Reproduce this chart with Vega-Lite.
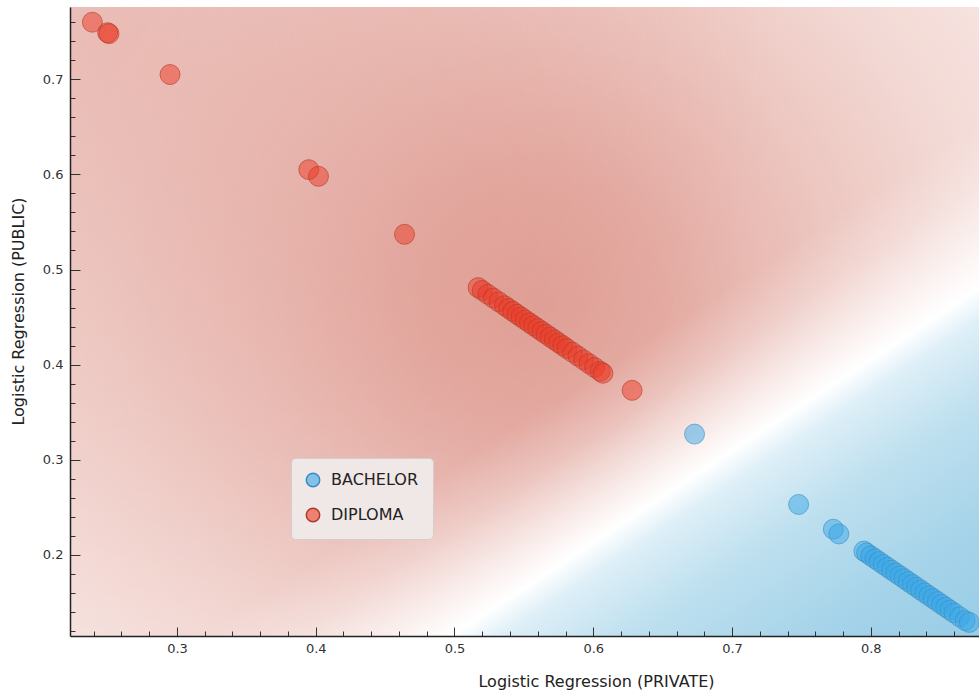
{
  "$schema": "https://vega.github.io/schema/vega-lite/v6.json",
  "width": 909,
  "height": 629,
  "autosize": {"type": "none"},
  "padding": {"left": 70, "top": 7, "right": 0, "bottom": 56},
  "background": "white",
  "config": {"view": {"stroke": null}, "font": "DejaVu Sans"},
  "datasets": {
    "bg": [{"x": 0.2229, "x2": 0.878, "y": 0.1147, "y2": 0.776}],
    "pts": [
      {"x": 0.239, "y": 0.760, "cls": "DIPLOMA"},
      {"x": 0.250, "y": 0.749, "cls": "DIPLOMA"},
      {"x": 0.251, "y": 0.748, "cls": "DIPLOMA"},
      {"x": 0.295, "y": 0.705, "cls": "DIPLOMA"},
      {"x": 0.395, "y": 0.605, "cls": "DIPLOMA"},
      {"x": 0.402, "y": 0.598, "cls": "DIPLOMA"},
      {"x": 0.464, "y": 0.537, "cls": "DIPLOMA"},
      {"x": 0.517, "y": 0.481, "cls": "DIPLOMA"},
      {"x": 0.520, "y": 0.478, "cls": "DIPLOMA"},
      {"x": 0.524, "y": 0.474, "cls": "DIPLOMA"},
      {"x": 0.528, "y": 0.470, "cls": "DIPLOMA"},
      {"x": 0.532, "y": 0.466, "cls": "DIPLOMA"},
      {"x": 0.536, "y": 0.462, "cls": "DIPLOMA"},
      {"x": 0.539, "y": 0.459, "cls": "DIPLOMA"},
      {"x": 0.542, "y": 0.456, "cls": "DIPLOMA"},
      {"x": 0.545, "y": 0.453, "cls": "DIPLOMA"},
      {"x": 0.548, "y": 0.450, "cls": "DIPLOMA"},
      {"x": 0.551, "y": 0.447, "cls": "DIPLOMA"},
      {"x": 0.554, "y": 0.444, "cls": "DIPLOMA"},
      {"x": 0.557, "y": 0.441, "cls": "DIPLOMA"},
      {"x": 0.560, "y": 0.438, "cls": "DIPLOMA"},
      {"x": 0.563, "y": 0.435, "cls": "DIPLOMA"},
      {"x": 0.566, "y": 0.432, "cls": "DIPLOMA"},
      {"x": 0.569, "y": 0.429, "cls": "DIPLOMA"},
      {"x": 0.572, "y": 0.426, "cls": "DIPLOMA"},
      {"x": 0.575, "y": 0.423, "cls": "DIPLOMA"},
      {"x": 0.578, "y": 0.420, "cls": "DIPLOMA"},
      {"x": 0.581, "y": 0.417, "cls": "DIPLOMA"},
      {"x": 0.585, "y": 0.413, "cls": "DIPLOMA"},
      {"x": 0.589, "y": 0.409, "cls": "DIPLOMA"},
      {"x": 0.593, "y": 0.405, "cls": "DIPLOMA"},
      {"x": 0.597, "y": 0.401, "cls": "DIPLOMA"},
      {"x": 0.601, "y": 0.397, "cls": "DIPLOMA"},
      {"x": 0.605, "y": 0.393, "cls": "DIPLOMA"},
      {"x": 0.607, "y": 0.391, "cls": "DIPLOMA"},
      {"x": 0.628, "y": 0.373, "cls": "DIPLOMA"},
      {"x": 0.673, "y": 0.327, "cls": "BACHELOR"},
      {"x": 0.748, "y": 0.253, "cls": "BACHELOR"},
      {"x": 0.773, "y": 0.227, "cls": "BACHELOR"},
      {"x": 0.777, "y": 0.222, "cls": "BACHELOR"},
      {"x": 0.795, "y": 0.204, "cls": "BACHELOR"},
      {"x": 0.797, "y": 0.202, "cls": "BACHELOR"},
      {"x": 0.800, "y": 0.199, "cls": "BACHELOR"},
      {"x": 0.803, "y": 0.196, "cls": "BACHELOR"},
      {"x": 0.806, "y": 0.193, "cls": "BACHELOR"},
      {"x": 0.809, "y": 0.190, "cls": "BACHELOR"},
      {"x": 0.812, "y": 0.187, "cls": "BACHELOR"},
      {"x": 0.815, "y": 0.184, "cls": "BACHELOR"},
      {"x": 0.818, "y": 0.181, "cls": "BACHELOR"},
      {"x": 0.821, "y": 0.178, "cls": "BACHELOR"},
      {"x": 0.824, "y": 0.175, "cls": "BACHELOR"},
      {"x": 0.827, "y": 0.172, "cls": "BACHELOR"},
      {"x": 0.830, "y": 0.169, "cls": "BACHELOR"},
      {"x": 0.833, "y": 0.166, "cls": "BACHELOR"},
      {"x": 0.836, "y": 0.163, "cls": "BACHELOR"},
      {"x": 0.839, "y": 0.160, "cls": "BACHELOR"},
      {"x": 0.842, "y": 0.157, "cls": "BACHELOR"},
      {"x": 0.845, "y": 0.154, "cls": "BACHELOR"},
      {"x": 0.848, "y": 0.151, "cls": "BACHELOR"},
      {"x": 0.851, "y": 0.148, "cls": "BACHELOR"},
      {"x": 0.854, "y": 0.145, "cls": "BACHELOR"},
      {"x": 0.857, "y": 0.142, "cls": "BACHELOR"},
      {"x": 0.860, "y": 0.139, "cls": "BACHELOR"},
      {"x": 0.864, "y": 0.135, "cls": "BACHELOR"},
      {"x": 0.868, "y": 0.131, "cls": "BACHELOR"},
      {"x": 0.871, "y": 0.129, "cls": "BACHELOR"}
    ]
  },
  "encoding": {
    "x": {
      "field": "x", "type": "quantitative",
      "scale": {"domain": [0.2229, 0.878], "nice": false, "zero": false},
      "axis": {
        "zindex": 1,
        "title": "Logistic Regression (PRIVATE)",
        "values": [0.24, 0.26, 0.28, 0.3, 0.32, 0.34, 0.36, 0.38, 0.4, 0.42, 0.44, 0.46, 0.48, 0.5, 0.52, 0.54, 0.56, 0.58, 0.6, 0.62, 0.64, 0.66, 0.68, 0.7, 0.72, 0.74, 0.76, 0.78, 0.8, 0.82, 0.84, 0.86],
        "labelExpr": "abs(datum.value*10-round(datum.value*10))<0.001 ? format(datum.value,'.1f') : ''",
        "tickSize": {"condition": {"test": "abs(datum.value*10-round(datum.value*10))<0.001", "value": -9}, "value": -5},
        "labelPadding": 15,
        "labelFont": "DejaVu Sans", "labelFontSize": 13, "labelColor": "#333",
        "labelOverlap": false, "labelFlush": false, "labelBound": false,
        "domainColor": "#222", "domainWidth": 1.5,
        "tickColor": "#333", "tickWidth": 1,
        "grid": false,
        "titleFont": "DejaVu Sans", "titleFontSize": 16, "titleFontWeight": "normal", "titleColor": "#222",
        "titleX": 526, "titleY": 45, "titleAlign": "center", "titleBaseline": "middle"
      }
    },
    "y": {
      "field": "y", "type": "quantitative",
      "scale": {"domain": [0.1147, 0.776], "nice": false, "zero": false},
      "axis": {
        "zindex": 1,
        "title": "Logistic Regression (PUBLIC)",
        "values": [0.12, 0.14, 0.16, 0.18, 0.2, 0.22, 0.24, 0.26, 0.28, 0.3, 0.32, 0.34, 0.36, 0.38, 0.4, 0.42, 0.44, 0.46, 0.48, 0.5, 0.52, 0.54, 0.56, 0.58, 0.6, 0.62, 0.64, 0.66, 0.68, 0.7, 0.72, 0.74, 0.76],
        "labelExpr": "abs(datum.value*10-round(datum.value*10))<0.001 ? format(datum.value,'.1f') : ''",
        "tickSize": {"condition": {"test": "abs(datum.value*10-round(datum.value*10))<0.001", "value": -10}, "value": -5},
        "labelPadding": 17,
        "labelFont": "DejaVu Sans", "labelFontSize": 13, "labelColor": "#333",
        "labelOverlap": false, "labelFlush": false, "labelBound": false,
        "domainColor": "#222", "domainWidth": 1.5,
        "tickColor": "#333", "tickWidth": 1,
        "grid": false,
        "titleFont": "DejaVu Sans", "titleFontSize": 16, "titleFontWeight": "normal", "titleColor": "#222",
        "titleX": -52, "titleY": 304, "titleAlign": "center", "titleBaseline": "middle", "titleAngle": -90
      }
    }
  },
  "layer": [
    {
      "data": {"name": "bg"},
      "mark": {"type": "rect", "fill": "#f9ebe8"},
      "encoding": {"x2": {"field": "x2"}, "y2": {"field": "y2"}}
    },
    {
      "data": {"name": "bg"},
      "mark": {"type": "rect", "fill": {"gradient": "radial", "x1": 0.52, "y1": 0.48, "r1": 0, "x2": 0.52, "y2": 0.48, "r2": 0.68,
        "stops": [
          {"offset": 0, "color": "rgba(214,130,118,0.7)"},
          {"offset": 0.2, "color": "rgba(214,130,118,0.6)"},
          {"offset": 0.45, "color": "rgba(214,130,118,0.37)"},
          {"offset": 0.7, "color": "rgba(214,130,118,0.17)"},
          {"offset": 1, "color": "rgba(214,130,118,0)"}
        ]}},
      "encoding": {"x2": {"field": "x2"}, "y2": {"field": "y2"}}
    },
    {
      "data": {"name": "bg"},
      "mark": {"type": "rect", "fill": {"gradient": "radial", "x1": 0.03, "y1": 0.18, "r1": 0, "x2": 0.03, "y2": 0.18, "r2": 0.75,
        "stops": [
          {"offset": 0, "color": "rgba(214,130,118,0.4)"},
          {"offset": 0.5, "color": "rgba(214,130,118,0.2)"},
          {"offset": 1, "color": "rgba(214,130,118,0)"}
        ]}},
      "encoding": {"x2": {"field": "x2"}, "y2": {"field": "y2"}}
    },
    {
      "data": {"name": "bg"},
      "mark": {"type": "rect", "fill": {"gradient": "linear", "x1": 0.39, "y1": 0.613, "x2": 0.887, "y2": 1.135,
        "stops": [
          {"offset": 0, "color": "rgba(255,255,255,0)"},
          {"offset": 0.15, "color": "rgba(255,255,255,0)"},
          {"offset": 0.25, "color": "rgba(255,255,255,0.25)"},
          {"offset": 0.33, "color": "rgba(255,255,255,0.6)"},
          {"offset": 0.416, "color": "rgba(255,255,255,1)"},
          {"offset": 0.47, "color": "rgb(222,239,247)"},
          {"offset": 0.6, "color": "rgb(190,224,239)"},
          {"offset": 0.8, "color": "rgb(165,211,233)"},
          {"offset": 1, "color": "rgb(150,204,230)"}
        ]}},
      "encoding": {"x2": {"field": "x2"}, "y2": {"field": "y2"}}
    },
    {
      "data": {"name": "pts"},
      "mark": {"type": "point", "shape": "circle", "filled": true, "size": 400, "fillOpacity": 0.5, "strokeOpacity": 0.6, "strokeWidth": 1},
      "encoding": {
        "fill": {
          "field": "cls", "type": "nominal",
          "scale": {"domain": ["BACHELOR", "DIPLOMA"], "range": ["#3aa8e8", "#eb3c28"]},
          "legend": {"title": null, "orient": "none", "legendX": 221, "legendY": 451, "fillColor": "#efe8e7", "strokeColor": "#d5cdcc", "cornerRadius": 4, "padding": 14, "labelFont": "DejaVu Sans", "labelFontSize": 16, "labelColor": "#222", "symbolSize": 180, "rowPadding": 15, "labelOffset": 10, "symbolStrokeWidth": 1.5,
            "encode": {"symbols": {"update": {"fillOpacity": {"value": 0.6}, "strokeOpacity": {"value": 1}}}}}
        },
        "stroke": {
          "field": "cls", "type": "nominal",
          "scale": {"domain": ["BACHELOR", "DIPLOMA"], "range": ["#3a8cc0", "#b03a28"]},
          "legend": {"title": null, "orient": "none", "legendX": 221, "legendY": 451, "fillColor": "#efe8e7", "strokeColor": "#d5cdcc", "cornerRadius": 4, "padding": 14, "labelFont": "DejaVu Sans", "labelFontSize": 16, "labelColor": "#222", "symbolSize": 180, "rowPadding": 15, "labelOffset": 10, "symbolStrokeWidth": 1.5,
            "encode": {"symbols": {"update": {"fillOpacity": {"value": 0.6}, "strokeOpacity": {"value": 1}}}}}
        }
      }
    }
  ]
}
